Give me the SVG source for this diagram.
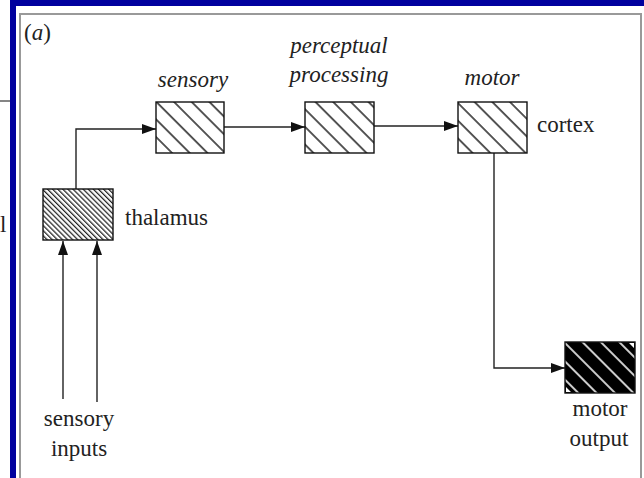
<svg xmlns="http://www.w3.org/2000/svg" width="644" height="478" viewBox="0 0 644 478">
<style>
text{font-family:"Liberation Serif","Times New Roman",serif;font-size:23px;fill:#222}
.it{font-style:italic}
.box{stroke:#111;stroke-width:1.4}
.conn{fill:none;stroke:#222;stroke-width:1.4}
</style>
<defs>
<pattern id="hatch" patternUnits="userSpaceOnUse" width="12.5" height="12.5" patternTransform="rotate(-45)">
<rect width="12.5" height="12.5" fill="#fff"/>
<line x1="1" y1="0" x2="1" y2="12.5" stroke="#111" stroke-width="1.4"/>
</pattern>
<pattern id="dense" patternUnits="userSpaceOnUse" width="3.6" height="3.6" patternTransform="rotate(-45)">
<rect width="3.6" height="3.6" fill="#fff"/>
<line x1="0.6" y1="0" x2="0.6" y2="3.6" stroke="#222" stroke-width="1.3"/>
</pattern>
<pattern id="dark" patternUnits="userSpaceOnUse" width="13" height="13" patternTransform="rotate(-45)">
<rect width="13" height="13" fill="#000"/>
<line x1="1" y1="0" x2="1" y2="13" stroke="#fff" stroke-width="1.6"/>
</pattern>
<marker id="arr" markerUnits="userSpaceOnUse" viewBox="0 0 14 10" refX="14" refY="5" markerWidth="14" markerHeight="10" orient="auto">
<path d="M0,0 L14,5 L0,10 Z" fill="#111"/>
</marker>
</defs>
<rect width="644" height="478" fill="#fff"/>
<g id="frame">
<rect x="10" y="0" width="634" height="6" fill="#00009e"/>
<rect x="10" y="0" width="6" height="478" fill="#00009e"/>
<path d="M20,480 V14 H641 V480" fill="none" stroke="#999" stroke-width="2"/>
<line x1="0" y1="101" x2="10" y2="101" stroke="#333" stroke-width="1.2"/>
<text x="0" y="232">l</text>
<text x="24" y="40">(<tspan class="it">a</tspan>)</text>
</g>
<g id="connectors">
<path class="conn" d="M76,189 V129 H156" marker-end="url(#arr)"/>
<path class="conn" d="M224,127 H305" marker-end="url(#arr)"/>
<path class="conn" d="M374,126 H458" marker-end="url(#arr)"/>
<path class="conn" d="M494,153 V368 H565" marker-end="url(#arr)"/>
<path class="conn" d="M63,399 V241" marker-end="url(#arr)"/>
<path class="conn" d="M97,402 V241" marker-end="url(#arr)"/>
</g>
<g id="thalamus">
<rect class="box" x="43" y="189" width="70" height="51" fill="url(#dense)"/>
<text x="125" y="225">thalamus</text>
</g>
<g id="sensory">
<rect class="box" x="156" y="102" width="68" height="51" fill="url(#hatch)"/>
<text x="193" y="87" class="it" text-anchor="middle">sensory</text>
</g>
<g id="perceptual">
<rect class="box" x="305" y="102" width="69" height="51" fill="url(#hatch)"/>
<text x="339" y="53" class="it" text-anchor="middle">perceptual</text>
<text x="339" y="82" class="it" text-anchor="middle">processing</text>
</g>
<g id="motor">
<rect class="box" x="458" y="102" width="69" height="51" fill="url(#hatch)"/>
<text x="492" y="85" class="it" text-anchor="middle">motor</text>
<text x="537" y="132">cortex</text>
</g>
<g id="motor-output">
<rect class="box" x="565" y="342" width="70" height="51" fill="url(#dark)"/>
<path d="M629,343 H634 V348 Z M566,387 V392 H571 Z" fill="#fff"/>
<text x="600" y="416" text-anchor="middle">motor</text>
<text x="599" y="446" text-anchor="middle">output</text>
</g>
<g id="inputs">
<text x="79" y="426" text-anchor="middle">sensory</text>
<text x="79" y="456" text-anchor="middle">inputs</text>
</g>
</svg>
